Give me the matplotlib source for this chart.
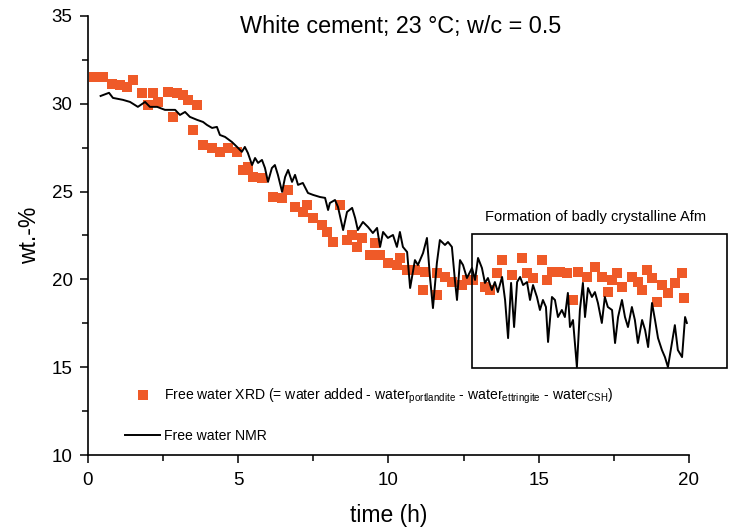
import matplotlib
matplotlib.use("Agg")
from matplotlib import pyplot as plt
from matplotlib.patches import Rectangle
from matplotlib.ticker import MultipleLocator

plt.rcParams['font.family'] = ['Liberation Sans', 'DejaVu Sans']
plt.rcParams['mathtext.fontset'] = 'custom'
plt.rcParams['mathtext.rm'] = 'Liberation Sans'

# free water from XRD (time in h, wt.-%)
xrd_time = [0.20, 0.50, 0.80, 1.06, 1.30, 1.50, 1.80, 2.00, 2.16, 2.33, 2.66, 2.83,
            2.96, 3.16, 3.33, 3.49, 3.63, 3.83, 4.13, 4.39, 4.66, 4.96, 5.16, 5.32,
            5.49, 5.79, 6.16, 6.46, 6.66, 6.89, 7.15, 7.29, 7.49, 7.79, 7.95, 8.15,
            8.39, 8.62, 8.79, 8.95, 9.12, 9.38, 9.55, 9.72, 9.98, 10.28, 10.38, 10.62,
            10.88, 11.15, 11.21, 11.61, 11.61, 11.88, 12.11, 12.45, 12.61, 12.81, 13.21,
            13.38, 13.61, 13.78, 14.11, 14.44, 14.61, 14.81, 15.11, 15.27, 15.44, 15.71,
            15.94, 16.14, 16.31, 16.61, 16.87, 17.10, 17.30, 17.44, 17.60, 17.77, 18.10,
            18.30, 18.44, 18.60, 18.77, 18.94, 19.10, 19.30, 19.53, 19.77, 19.83]
xrd_water = [31.53, 31.53, 31.13, 31.07, 30.96, 31.36, 30.62, 29.93, 30.62, 30.10, 30.67, 29.25,
             30.62, 30.50, 30.22, 28.51, 29.93, 27.65, 27.48, 27.26, 27.48, 27.26, 26.23, 26.40,
             25.83, 25.77, 24.69, 24.64, 25.09, 24.12, 23.84, 24.24, 23.50, 23.10, 22.70, 22.13,
             24.24, 22.24, 22.53, 21.85, 22.36, 21.39, 22.07, 21.39, 20.93, 20.82, 21.22, 20.54,
             20.54, 19.40, 20.42, 19.11, 20.36, 20.14, 19.85, 19.68, 19.97, 19.97, 19.57,
             19.40, 20.36, 21.10, 20.25, 21.22, 20.36, 20.08, 21.10, 19.97, 20.42, 20.42,
             20.36, 18.83, 20.42, 20.14, 20.71, 20.14, 19.28, 19.97, 20.36, 19.57, 20.14,
             19.85, 19.40, 20.54, 20.08, 18.71, 19.68, 19.23, 19.80, 20.36, 18.94]

# free water from NMR
nmr_time = [0.42, 0.70, 0.83, 1.16, 1.40, 1.66, 1.90, 2.06, 2.30, 2.56, 2.90, 3.06, 3.23,
            3.39, 3.63, 3.83, 3.96, 4.13, 4.29, 4.39, 4.56, 4.79, 4.96, 5.12, 5.22, 5.32,
            5.46, 5.56, 5.66, 5.79, 5.89, 5.99, 6.12, 6.22, 6.32, 6.46, 6.56, 6.66, 6.79,
            6.89, 6.99, 7.15, 7.32, 7.49, 7.72, 7.89, 7.99, 8.05, 8.22, 8.32, 8.49, 8.62,
            8.79, 8.89, 8.98, 9.15, 9.32, 9.48, 9.62, 9.72, 9.82, 9.98, 10.15, 10.28, 10.38,
            10.48, 10.62, 10.72, 10.88, 10.98, 11.15, 11.28, 11.38, 11.48, 11.61, 11.71,
            11.88, 11.98, 12.11, 12.21, 12.28, 12.38, 12.48, 12.61, 12.78, 12.88, 12.98,
            13.11, 13.21, 13.31, 13.44, 13.54, 13.64, 13.78, 13.88, 13.98, 14.08, 14.18,
            14.28, 14.38, 14.48, 14.61, 14.71, 14.81, 14.94, 15.04, 15.14, 15.24, 15.31,
            15.44, 15.54, 15.64, 15.77, 15.87, 15.97, 16.04, 16.14, 16.27, 16.37, 16.47,
            16.54, 16.64, 16.77, 16.87, 16.97, 17.10, 17.20, 17.30, 17.44, 17.54, 17.64,
            17.77, 17.87, 17.97, 18.10, 18.20, 18.30, 18.44, 18.54, 18.64, 18.77, 18.87,
            18.97, 19.10, 19.20, 19.30, 19.43, 19.53, 19.63, 19.77, 19.87, 19.93]
nmr_water = [30.44, 30.62, 30.33, 30.22, 30.10, 29.82, 30.10, 29.82, 29.82, 29.65, 29.65, 29.36, 29.53,
             29.25, 29.08, 28.96, 28.79, 28.62, 28.68, 28.22, 28.11, 27.82, 27.54, 27.26, 27.54, 27.20,
             26.51, 26.91, 26.63, 26.80, 26.34, 25.55, 26.34, 26.51, 25.95, 24.98, 25.83, 26.23, 25.55,
             25.95, 25.38, 25.49, 24.92, 24.81, 24.69, 24.64, 23.95, 24.35, 24.52, 24.12, 22.81, 23.84,
             24.07, 23.50, 22.81, 23.27, 22.98, 22.64, 22.93, 21.85, 22.70, 22.36, 22.53, 21.85, 22.70,
             21.85, 21.56, 19.51, 21.10, 20.82, 21.50, 22.36, 20.14, 18.37, 20.93, 22.24,
             21.96, 22.13, 21.85, 19.97, 18.83, 21.10, 20.82, 20.08, 20.65, 19.97, 21.22,
             20.65, 19.80, 20.08, 19.40, 19.85, 19.28, 20.14, 18.83, 16.66, 19.80, 17.29,
             19.85, 20.14, 19.68, 19.85, 18.83, 19.68, 19.00, 18.26, 18.83, 18.43, 16.44,
             19.00, 18.83, 17.86, 18.26, 17.86, 19.23, 17.29, 17.69, 15.01, 18.26, 19.80,
             17.86, 19.51, 19.00, 19.28, 18.66, 17.52, 19.00, 18.43, 18.26, 16.38, 17.86,
             18.83, 17.86, 17.29, 18.43, 17.69, 16.38, 17.69, 17.12, 16.15, 18.66, 17.69,
             16.66, 15.98, 15.58, 15.01, 16.38, 17.40, 15.98, 15.58, 17.86, 17.52]

title = "White cement; 23 °C; w/c = 0.5"
xrd_label = (r"Free water XRD (= water added - water$_\mathregular{portlandite}$"
             r" - water$_\mathregular{ettringite}$ - water$_\mathregular{CSH}$)")
nmr_label = "Free water NMR"
box_text = "Formation of badly crystalline Afm"

fig = plt.figure(figsize=(7.29, 5.28), dpi=100)
ax = fig.add_axes([0.1207, 0.138, 0.8244, 0.832])

ax.plot(xrd_time, xrd_water, linestyle='none', marker='s', markersize=7,
        color='#ef5a28', markeredgewidth=0, label=xrd_label, clip_on=False, zorder=3)
ax.plot(nmr_time, nmr_water, color='black', linewidth=1.4, label=nmr_label, zorder=4)

ax.set_xlim(0, 20)
ax.set_ylim(10, 35)
ax.xaxis.set_major_locator(MultipleLocator(5))
ax.xaxis.set_minor_locator(MultipleLocator(2.5))
ax.yaxis.set_major_locator(MultipleLocator(5))
ax.yaxis.set_minor_locator(MultipleLocator(2.5))
ax.spines['top'].set_visible(False)
ax.spines['right'].set_visible(False)
for s in ('left', 'bottom'):
    ax.spines[s].set_linewidth(1.2)
ax.tick_params(which='major', direction='out', length=6, width=1.1, labelsize=13.5)
ax.tick_params(axis='y', which='major', pad=5)
ax.tick_params(axis='x', which='major', pad=6)
ax.tick_params(which='minor', direction='out', length=4.3, width=1.1)

ax.set_xlabel("time (h)", fontsize=16.5, labelpad=11)
ax.set_ylabel("wt.-%", fontsize=16.5, labelpad=8)

ax.text(0.52, 0.961, title, transform=ax.transAxes, ha='center', va='baseline', fontsize=16.8)

rect = Rectangle((12.78, 14.95), 21.26 - 12.78, 22.59 - 14.95, fill=False,
                 edgecolor='black', linewidth=1.2, clip_on=False, zorder=5)
ax.add_patch(rect)
ax.text(13.2, 23.55, box_text, ha='left', va='center', fontsize=10.5)

ax.legend(loc='upper left', bbox_to_anchor=(0.062, 0.156), frameon=False,
          fontsize=10.1, labelspacing=1.65, handlelength=2.5, handletextpad=0.25,
          borderpad=0, borderaxespad=0)

fig.savefig("out.png", dpi=100)
